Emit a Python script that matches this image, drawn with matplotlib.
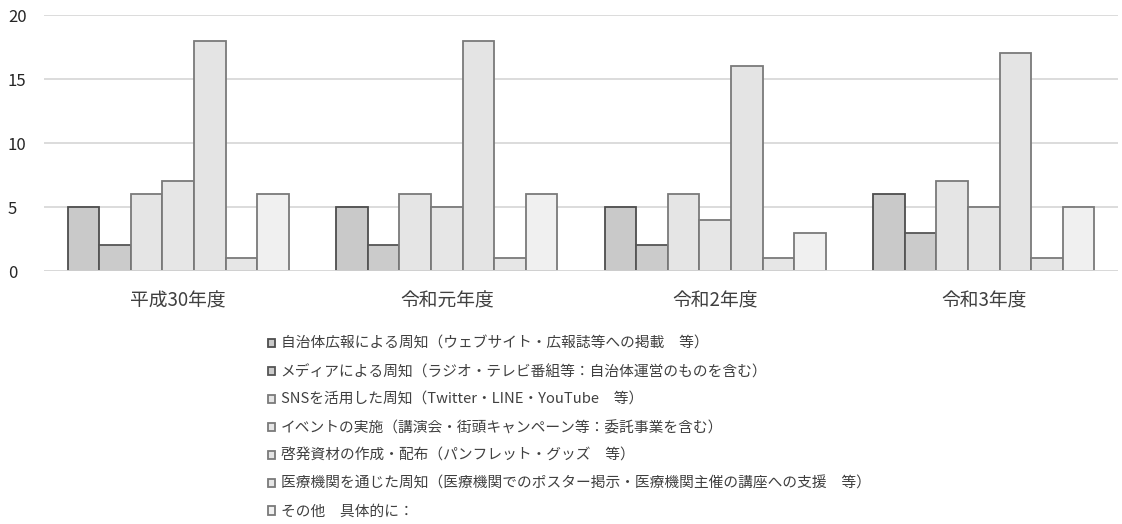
import numpy as np
import matplotlib
matplotlib.use("Agg")
from matplotlib import pyplot as plt

plt.rcParams['font.family'] = ['Noto Sans CJK JP', 'DejaVu Sans']

years = ['平成30年度', '令和元年度', '令和2年度', '令和3年度']
labels = [
    '自治体広報による周知（ウェブサイト・広報誌等への掲載　等）',
    'メディアによる周知（ラジオ・テレビ番組等：自治体運営のものを含む）',
    'SNSを活用した周知（Twitter・LINE・YouTube　等）',
    'イベントの実施（講演会・街頭キャンペーン等：委託事業を含む）',
    '啓発資材の作成・配布（パンフレット・グッズ　等）',
    '医療機関を通じた周知（医療機関でのポスター掲示・医療機関主催の講座への支援　等）',
    'その他　具体的に：',
]
# one list per measure, values for the four years
koho    = [5, 5, 5, 6]
media   = [2, 2, 2, 3]
sns     = [6, 6, 6, 7]
event   = [7, 5, 4, 5]
shizai  = [18, 18, 16, 17]
iryo    = [1, 1, 1, 1]
sonota  = [6, 6, 3, 5]
series = [koho, media, sns, event, shizai, iryo, sonota]

fills = ['#c9c9c9', '#cbcbcb', '#e5e5e5', '#e6e6e6', '#e4e4e4', '#e6e6e6', '#f0f0f0']
edges = ['#4d4d4d', '#555555', '#7a7a7a', '#7a7a7a', '#7a7a7a', '#7a7a7a', '#7a7a7a']

fig = plt.figure(figsize=(11.22, 5.24), dpi=100)
ax = fig.add_axes([44/1122, 1-271/524, 1074/1122, 256/524])

n = len(series)
w = 1.0 / (n + 1.5)
x = np.arange(len(years))
handles = []
for i, vals in enumerate(series):
    pos = x - n*w/2 + w*(i + 0.5)
    b = ax.bar(pos, vals, width=w, color=fills[i], edgecolor=edges[i],
               linewidth=1.3, zorder=3, label=labels[i])
    handles.append(b)

ax.set_xlim(-0.5, len(years) - 0.5)
ax.set_ylim(0, 20)
ax.set_yticks([0, 5, 10, 15, 20])
ax.yaxis.grid(True, color='#d9d9d9', linewidth=1.3, zorder=0)
for s in ax.spines.values():
    s.set_visible(False)
ax.axhline(0, color='#d9d9d9', linewidth=1.3, zorder=4)
ax.set_xticks(x)
ax.set_xticklabels(years, fontsize=13.5, color='#404040')
ax.tick_params(axis='both', length=0)
ax.tick_params(axis='x', pad=14)
ax.tick_params(axis='y', labelsize=12, labelcolor='#262626', pad=26)
for t in ax.get_yticklabels():
    t.set_horizontalalignment('left')

fig.legend(handles=handles, loc='upper left', bbox_to_anchor=(268/1122, 1-337/524),
           frameon=False, fontsize=10.6, handlelength=0.5, handleheight=0.5,
           handletextpad=0.35, labelspacing=0.94, borderpad=0, borderaxespad=0,
           labelcolor='#404040')

plt.savefig('out.png', dpi=100)
